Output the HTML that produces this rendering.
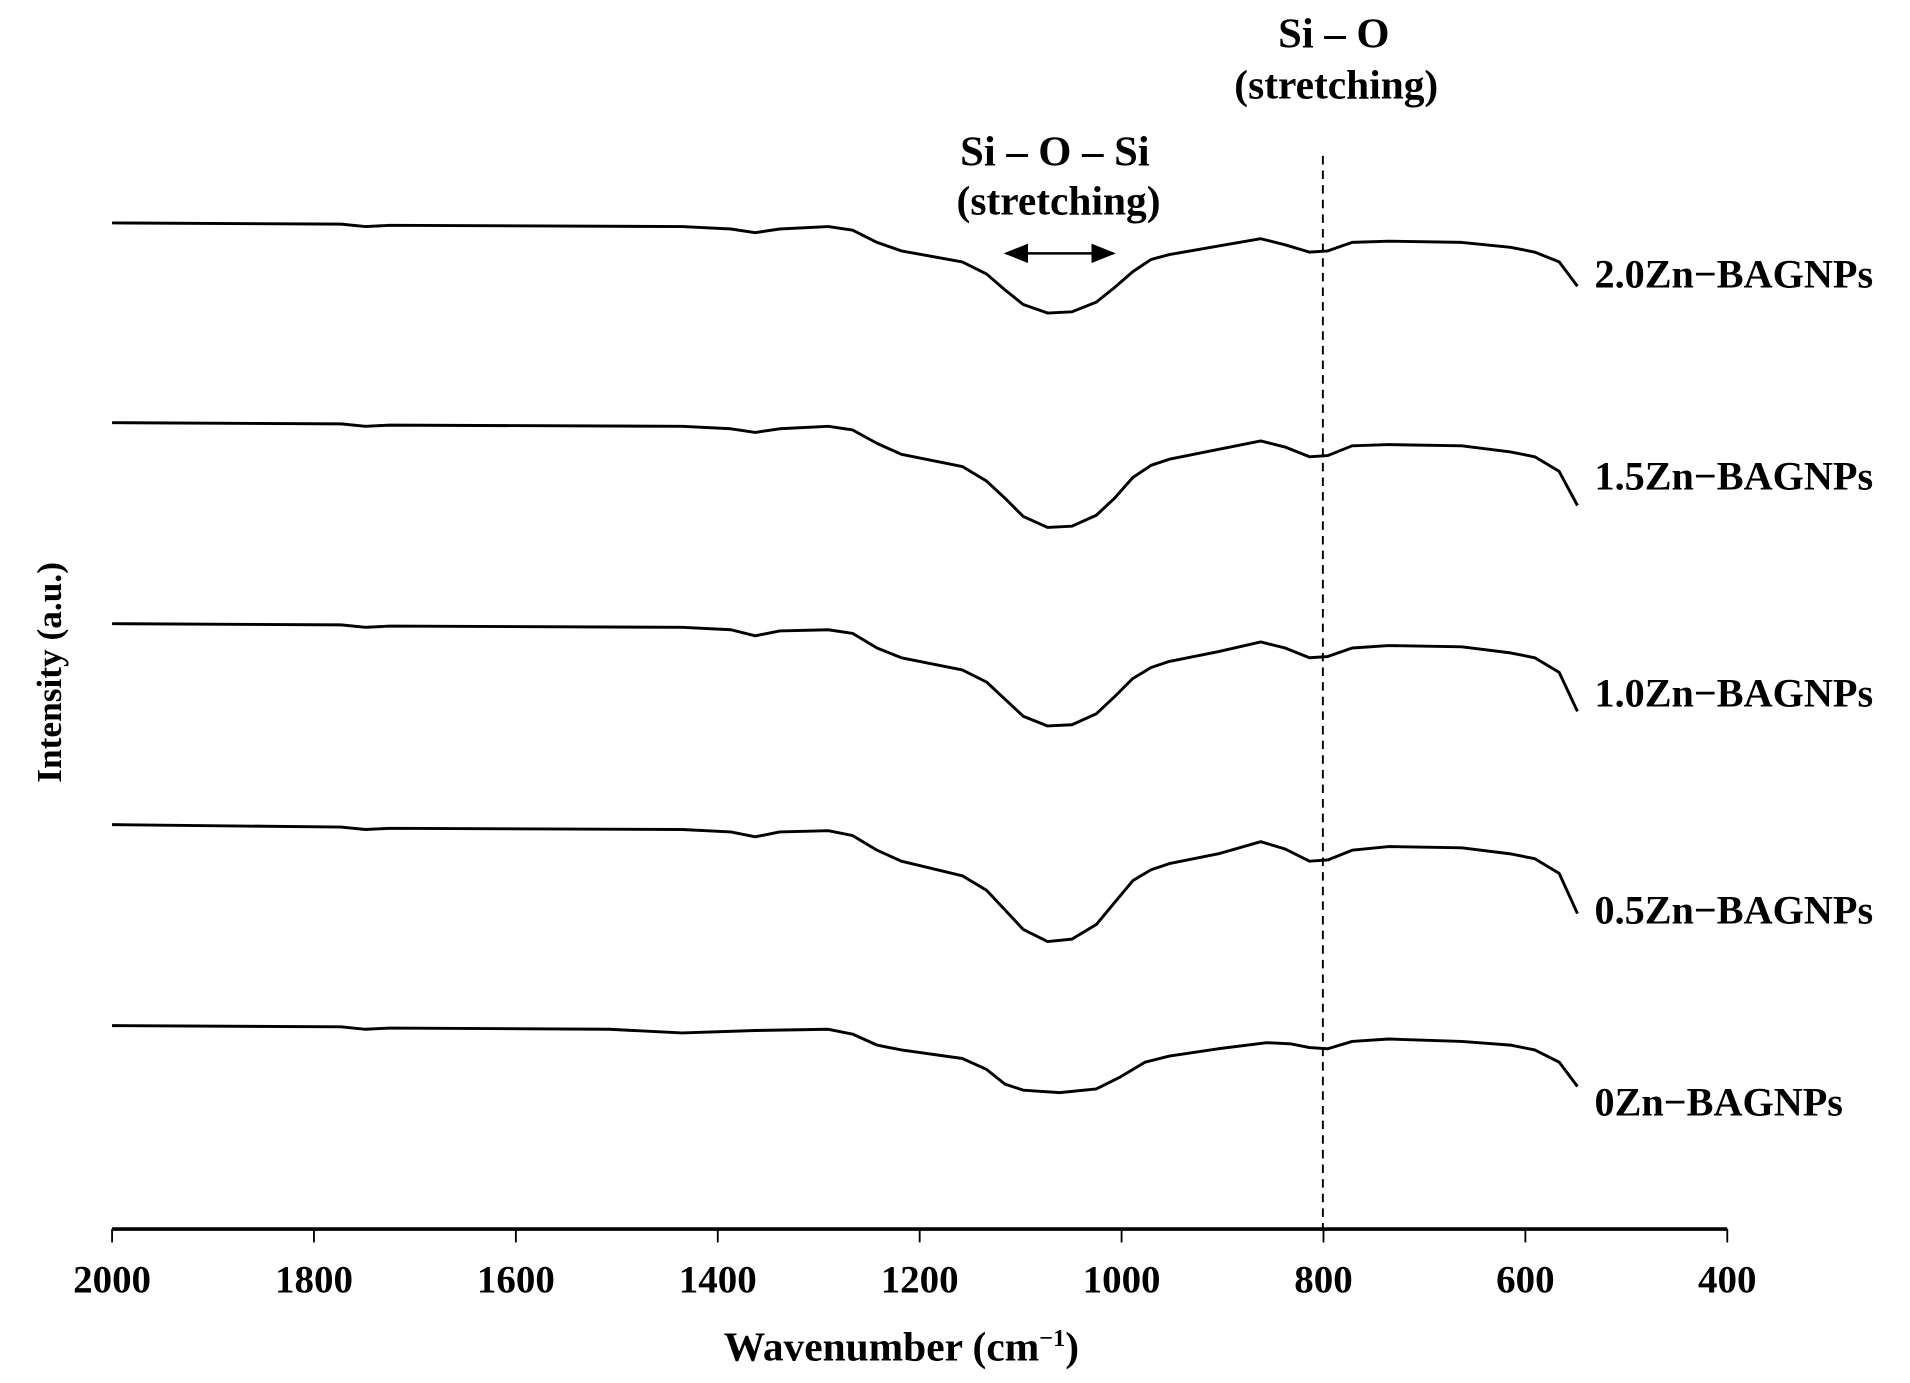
<!DOCTYPE html>
<html><head><style>html,body{margin:0;padding:0;background:#fff;}svg{display:block;}</style></head>
<body>
<svg width="1910" height="1383" viewBox="0 0 1568 1135.4" preserveAspectRatio="none" xmlns="http://www.w3.org/2000/svg" font-family="Liberation Serif, serif" font-weight="bold">
<defs>
<marker id="ah" markerWidth="10" markerHeight="8" refX="9" refY="4" orient="auto-start-reverse"><path d="M0,0 L10,4 L0,8 z" fill="#000"/></marker>
</defs>
<g fill="none" stroke="#000" stroke-width="2.4" stroke-linejoin="round">
<path transform="translate(0,183)" d="M92,0 L280,1 L300,3 L320,2 L560,3 L600,5 L620,8 L640,5 L680,3 L700,6 L720,16 L740,23 L790,32 L810,42 L825,55 L840,67 L860,74 L880,73 L900,65 L915,53 L930,40 L945,30 L960,26 L1000,19 L1035,13 L1055,18 L1075,24 L1090,23 L1110,16 L1140,15 L1200,16 L1240,20 L1260,24 L1280,32 L1295,52"/>
<path transform="translate(0,347)" d="M92,0 L280,1 L300,3 L320,2 L560,3 L600,5 L620,8 L640,5 L680,3 L700,6 L720,17 L740,26 L790,36 L810,48 L825,62 L840,77 L860,86 L880,85 L900,76 L915,62 L930,45 L945,35 L960,30 L1000,22 L1035,15 L1055,20 L1075,28 L1090,27 L1110,19 L1140,18 L1200,19 L1240,24 L1260,28 L1280,40 L1295,68"/>
<path transform="translate(0,512)" d="M92,0 L280,1 L300,3 L320,2 L560,3 L600,5 L620,10 L640,6 L680,5 L700,8 L720,20 L740,28 L790,38 L810,48 L825,62 L840,76 L860,84 L880,83 L900,74 L915,60 L930,45 L945,36 L960,31 L1000,23 L1035,15 L1055,20 L1075,28 L1090,27 L1110,20 L1140,18 L1200,19 L1240,24 L1260,28 L1280,40 L1295,72"/>
<path transform="translate(0,677)" d="M92,0 L280,2 L300,4 L320,3 L560,4 L600,6 L620,10 L640,6 L680,5 L700,9 L720,21 L740,30 L790,42 L810,54 L825,70 L840,86 L860,96 L880,94 L900,82 L915,64 L930,46 L945,37 L960,32 L1000,24 L1035,14 L1055,20 L1075,30 L1090,29 L1110,21 L1140,18 L1200,19 L1240,24 L1260,28 L1280,40 L1295,73"/>
<path transform="translate(0,842)" d="M92,0 L280,1 L300,3 L320,2 L500,3 L560,6 L620,4 L680,3 L700,7 L720,16 L740,20 L790,27 L810,36 L825,48 L840,53 L870,55 L900,52 L920,42 L940,30 L960,25 L1000,19 L1040,14 L1060,15 L1075,18 L1090,19 L1110,13 L1140,11 L1200,13 L1240,16 L1260,20 L1280,30 L1295,50"/>
</g>
<line x1="1086" y1="128" x2="1086" y2="1008" stroke="#000" stroke-width="1.6" stroke-dasharray="7,5"/>
<line x1="826" y1="208" x2="914" y2="208" stroke="#000" stroke-width="2" marker-start="url(#ah)" marker-end="url(#ah)"/>
<line x1="92" y1="1009" x2="1418" y2="1009" stroke="#000" stroke-width="3"/>
<g stroke="#000" stroke-width="1.5">
<line x1="92" y1="1009" x2="92" y2="1020"/><line x1="257.75" y1="1009" x2="257.75" y2="1020"/><line x1="423.5" y1="1009" x2="423.5" y2="1020"/><line x1="589.25" y1="1009" x2="589.25" y2="1020"/><line x1="755" y1="1009" x2="755" y2="1020"/><line x1="920.75" y1="1009" x2="920.75" y2="1020"/><line x1="1086.5" y1="1009" x2="1086.5" y2="1020"/><line x1="1252.25" y1="1009" x2="1252.25" y2="1020"/><line x1="1418" y1="1009" x2="1418" y2="1020"/>
</g>
<g font-size="32" text-anchor="middle">
<text x="92" y="1061">2000</text><text x="257.75" y="1061">1800</text><text x="423.5" y="1061">1600</text><text x="589.25" y="1061">1400</text><text x="755" y="1061">1200</text><text x="920.75" y="1061">1000</text><text x="1086.5" y="1061">800</text><text x="1252.25" y="1061">600</text><text x="1418" y="1061">400</text>
<text x="740" y="1117" font-size="34">Wavenumber (cm<tspan font-size="20" dy="-12">−1</tspan><tspan dy="12">)</tspan></text>
<text x="866" y="136" font-size="35">Si – O – Si</text>
<text x="869" y="176" font-size="34">(stretching)</text>
<text x="1095" y="39" font-size="35">Si – O</text>
<text x="1097" y="81" font-size="34">(stretching)</text>
<text transform="translate(50,552) rotate(-90)" font-size="29">Intensity (a.u.)</text>
</g>
<g font-size="33">
<text x="1309" y="236">2.0Zn−BAGNPs</text>
<text x="1309" y="402">1.5Zn−BAGNPs</text>
<text x="1309" y="580">1.0Zn−BAGNPs</text>
<text x="1309" y="758">0.5Zn−BAGNPs</text>
<text x="1309" y="916">0Zn−BAGNPs</text>
</g>
</svg>
</body></html>
